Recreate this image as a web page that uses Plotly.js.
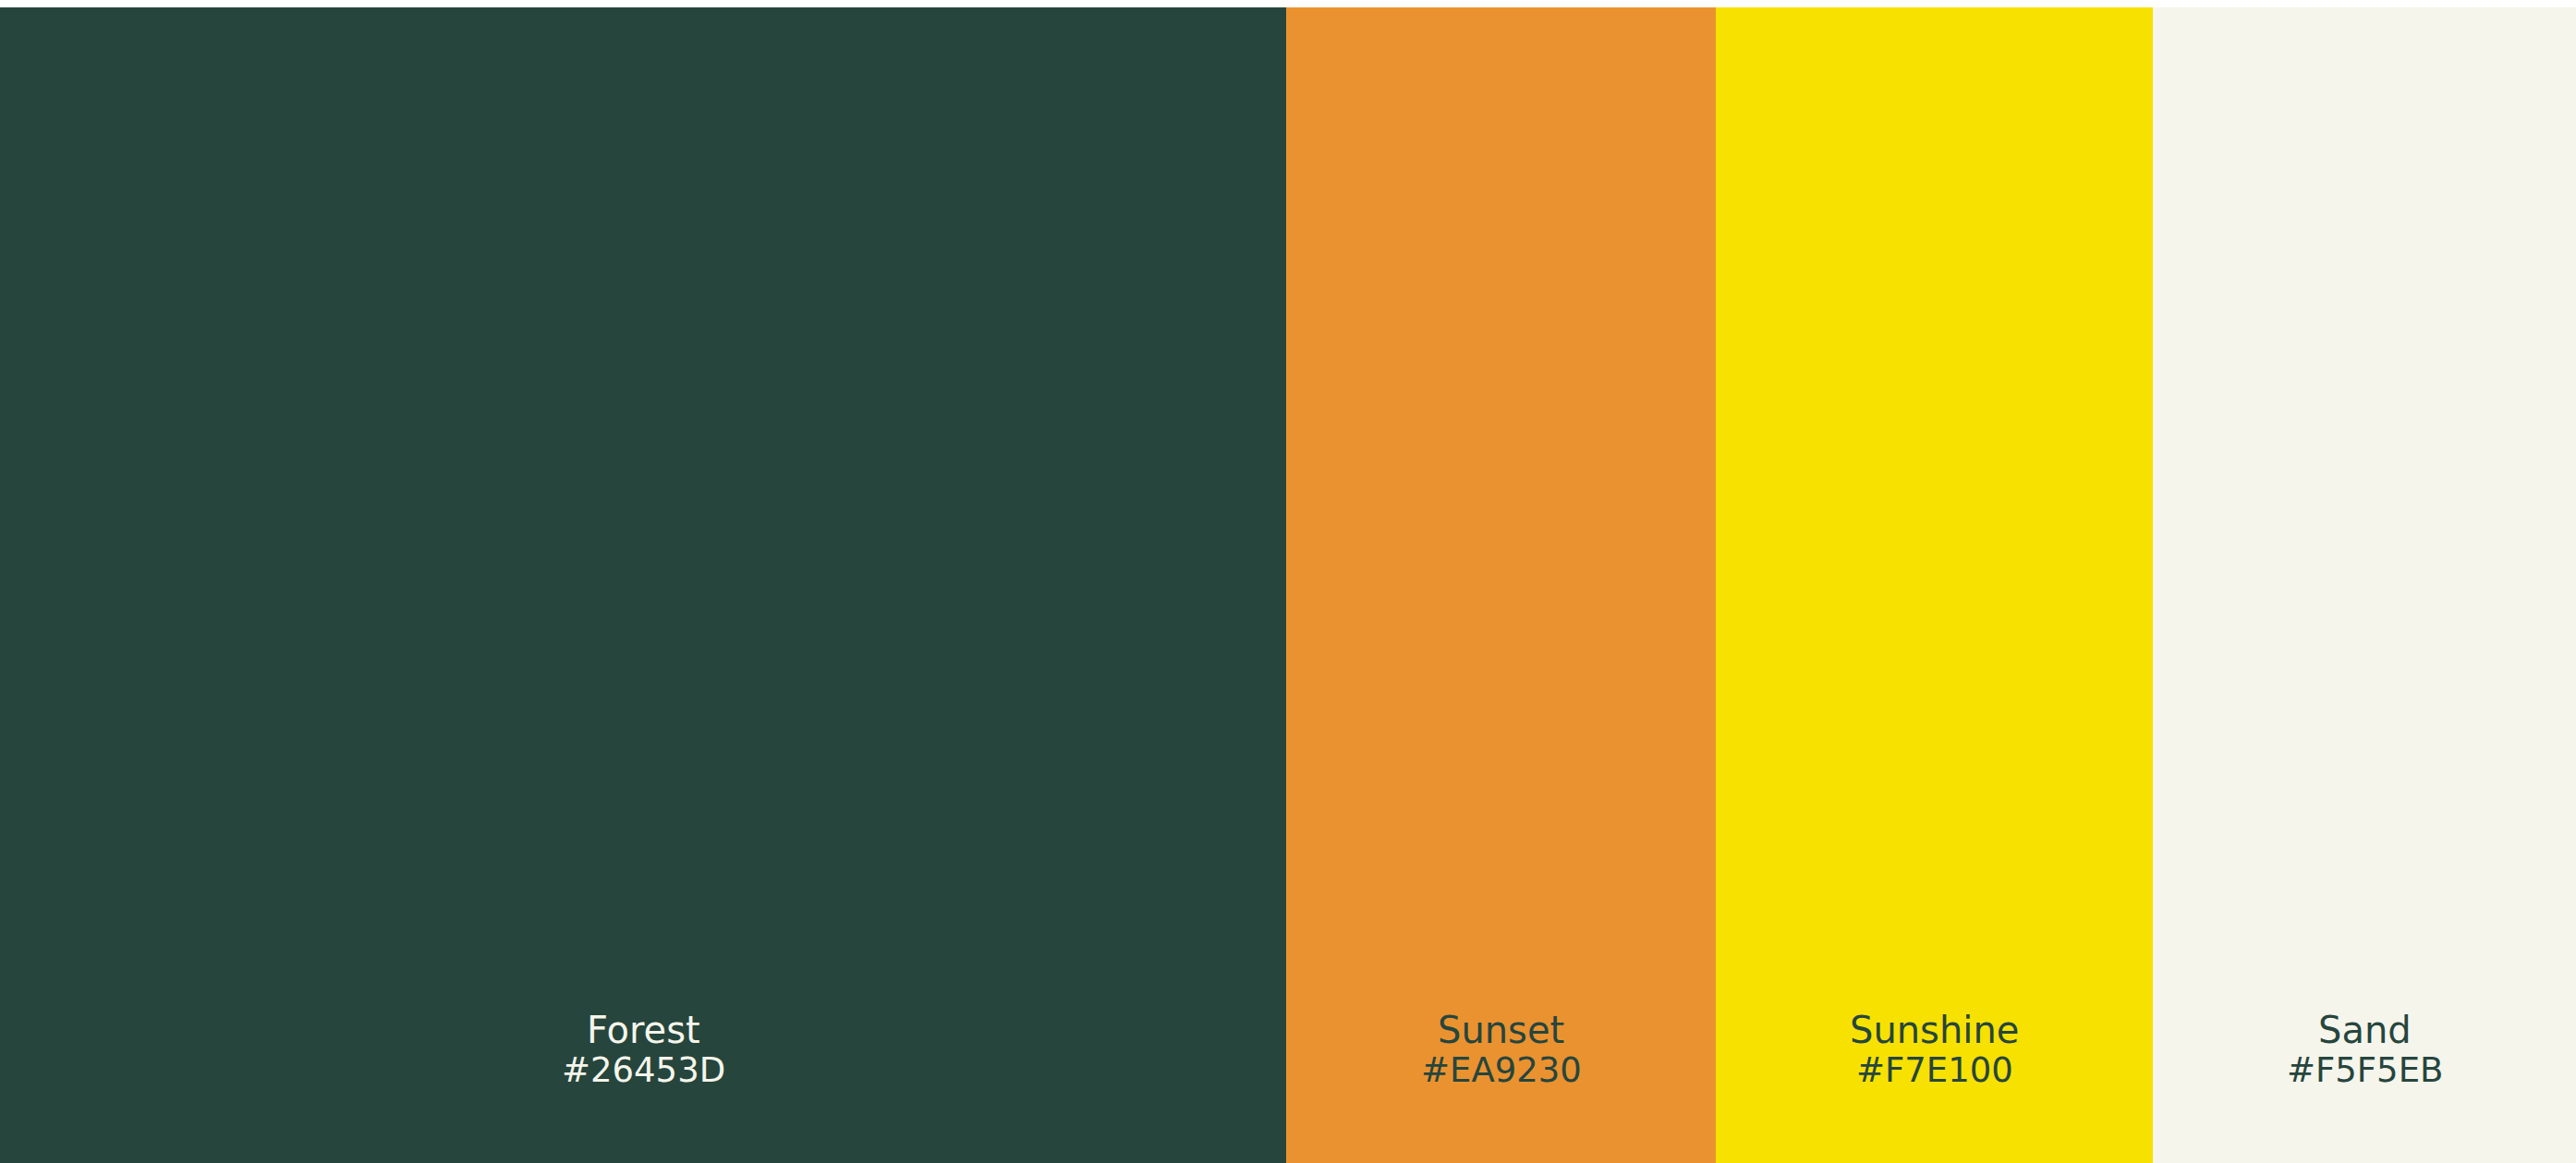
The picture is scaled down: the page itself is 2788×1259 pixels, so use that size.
<!DOCTYPE html>
<html>
<head>
<meta charset="utf-8">
<script src="https://cdn.plot.ly/plotly-3.0.1.min.js"></script>
<style>html,body{margin:0;padding:0;background:#ffffff;}#chart{width:2788px;height:1259px;}</style>
</head>
<body>
<div id="chart"></div>
<script>
const names = ["Forest", "Sunset", "Sunshine", "Sand"];
const hexCodes = ["#26453D", "#EA9230", "#F7E100", "#F5F5EB"];
const widths = [1392, 465, 473, 458];
const labelColors = ["#F5F5EB", "#26453D", "#26453D", "#26453D"];

const starts = [];
let acc = 0;
widths.forEach(w => { starts.push(acc); acc += w; });
const centers = widths.map((w, i) => starts[i] + w / 2);
const total = acc;

const trace = {
  type: "bar",
  x: centers,
  y: widths.map(() => 1),
  width: widths,
  marker: { color: hexCodes, line: { width: 0 } },
  hoverinfo: "skip",
  showlegend: false
};

const annotations = [];
names.forEach((n, i) => {
  annotations.push({
    x: centers[i], xref: "x", y: 1115, yref: "paper",
    text: n, showarrow: false, xanchor: "center", yanchor: "middle",
    font: { family: "DejaVu Sans", size: 40, color: labelColors[i] }
  });
  annotations.push({
    x: centers[i], xref: "x", y: 1158, yref: "paper",
    text: hexCodes[i], showarrow: false, xanchor: "center", yanchor: "middle",
    font: { family: "DejaVu Sans", size: 37, color: labelColors[i] }
  });
});
// convert pixel y to paper fraction (plot area from y=8 to y=1259)
const plotTop = 8, plotH = 1259 - 8;
annotations.forEach(a => { a.y = 1 - (a.y - plotTop) / plotH; });

const layout = {
  width: 2788, height: 1259,
  margin: { l: 0, r: 0, t: 8, b: 0, pad: 0 },
  paper_bgcolor: "#ffffff", plot_bgcolor: "#ffffff",
  bargap: 0,
  xaxis: { range: [0, total], visible: false, fixedrange: true },
  yaxis: { range: [0, 1], visible: false, fixedrange: true },
  annotations: annotations
};

Plotly.newPlot("chart", [trace], layout, { displayModeBar: false, staticPlot: true });
</script>
</body>
</html>
